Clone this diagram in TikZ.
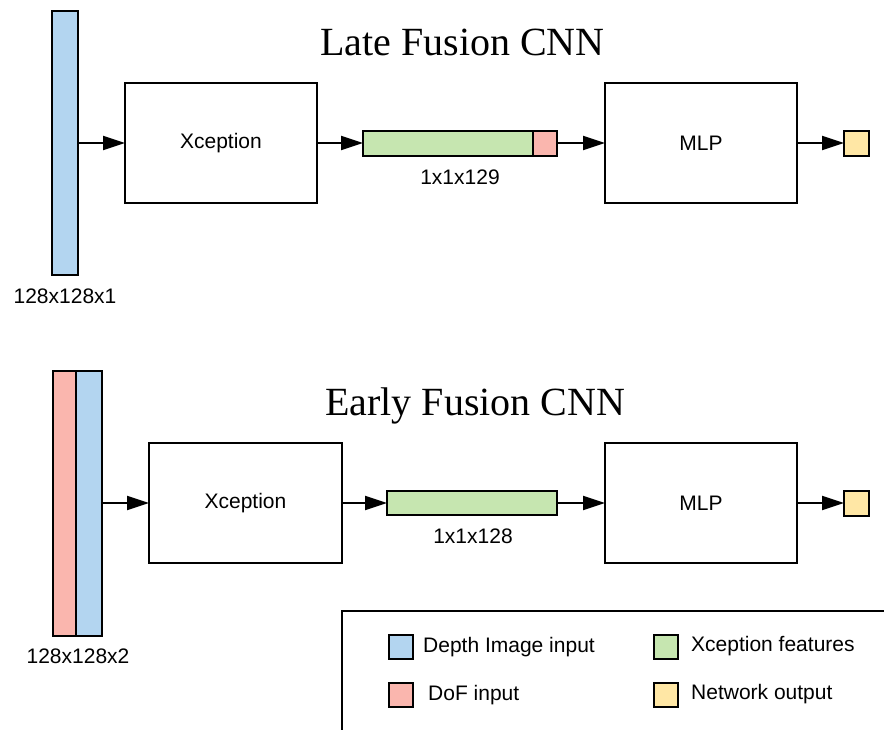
\documentclass[tikz,border=0pt]{standalone}
\usepackage{fontspec}
\setmainfont{Liberation Sans}
\newfontfamily\titlefont{Liberation Serif}
\usetikzlibrary{arrows.meta}
\definecolor{cblue}{HTML}{B3D5F0}
\definecolor{cpink}{HTML}{FAB6AE}
\definecolor{cgreen}{HTML}{C6E6B0}
\definecolor{cyellow}{HTML}{FFE7A5}
\begin{document}
\begin{tikzpicture}[x=1pt,y=-1pt,
  blk/.style={draw=black, line width=2pt, inner sep=0pt, outer sep=0pt, rectangle},
  netbox/.style={blk, fill=white, minimum width=192pt, minimum height=120pt, font=\fontsize{21}{25}\selectfont},
  arr/.style={line width=2pt, -{Triangle[length=22pt,width=14pt]}},
  lbl/.style={anchor=base, inner sep=0pt, font=\fontsize{21}{25}\selectfont},
  ttl/.style={anchor=base west, inner sep=0pt, font=\titlefont\fontsize{40}{44}\selectfont},
  swatch/.style={blk, minimum width=24pt, minimum height=24pt},
  legtext/.style={anchor=base west, inner sep=0pt, font=\fontsize{21}{25}\selectfont}]
\useasboundingbox (0,0) rectangle (884,729);
\clip (0,0) rectangle (884,729);
\fill[white] (0,0) rectangle (884,729);

% ---------- Late fusion ----------
\node[ttl] (title1) at (320,55) {Late Fusion CNN};
\node[blk, fill=cblue, minimum width=26pt, minimum height=264pt] (in1) at (65,143) {};
\node[lbl] (in1lab) at (65,303) {128x128x1};
\node[netbox] (xc1) at (221,143) {Xception};
\node[blk, fill=cgreen, minimum width=170pt, minimum height=25pt] (feat1) at (448,143) {};
\node[blk, fill=cpink, minimum width=24pt, minimum height=25pt] (dof1) at (545,143) {};
\node[lbl] (feat1lab) at (460,184) {1x1x129};
\node[netbox] (mlp1) at (701,143) {MLP};
\node[blk, fill=cyellow, minimum width=25pt, minimum height=25pt] (out1) at (856.5,143) {};
\draw[arr] (in1) -- (xc1);
\draw[arr] (xc1) -- (feat1);
\draw[arr] (dof1) -- (mlp1);
\draw[arr] (mlp1) -- (out1);

% ---------- Early fusion ----------
\node[ttl] (title2) at (325,415) {Early Fusion CNN};
\node[blk, fill=cpink, minimum width=23pt, minimum height=265pt] (dof2) at (64.5,503) {};
\node[blk, fill=cblue, minimum width=26pt, minimum height=265pt] (in2) at (89,503) {};
\node[lbl] (in2lab) at (78,663) {128x128x2};
\node[netbox, minimum width=193pt] (xc2) at (245.5,503) {Xception};
\node[blk, fill=cgreen, minimum width=170pt, minimum height=24pt] (feat2) at (472,503) {};
\node[lbl] (feat2lab) at (473,543) {1x1x128};
\node[netbox] (mlp2) at (701,503) {MLP};
\node[blk, fill=cyellow, minimum width=25pt, minimum height=25pt] (out2) at (856.5,503) {};
\draw[arr] (in2) -- (xc2);
\draw[arr] (xc2) -- (feat2);
\draw[arr] (feat2) -- (mlp2);
\draw[arr] (mlp2) -- (out2);

% ---------- Legend ----------
\node[blk, minimum width=560pt, minimum height=130pt] (legend) at (622,676) {};
\node[swatch, fill=cblue] (sw1) at (401,647) {};
\node[legtext] (lt1) at (423,652) {Depth Image input};
\node[swatch, fill=cpink] (sw2) at (401,695) {};
\node[legtext] (lt2) at (428,700) {DoF input};
\node[swatch, fill=cgreen] (sw3) at (665.5,646.5) {};
\node[legtext] (lt3) at (691,651) {Xception features};
\node[swatch, fill=cyellow] (sw4) at (665.5,695) {};
\node[legtext] (lt4) at (691,699) {Network output};
\end{tikzpicture}
\end{document}
